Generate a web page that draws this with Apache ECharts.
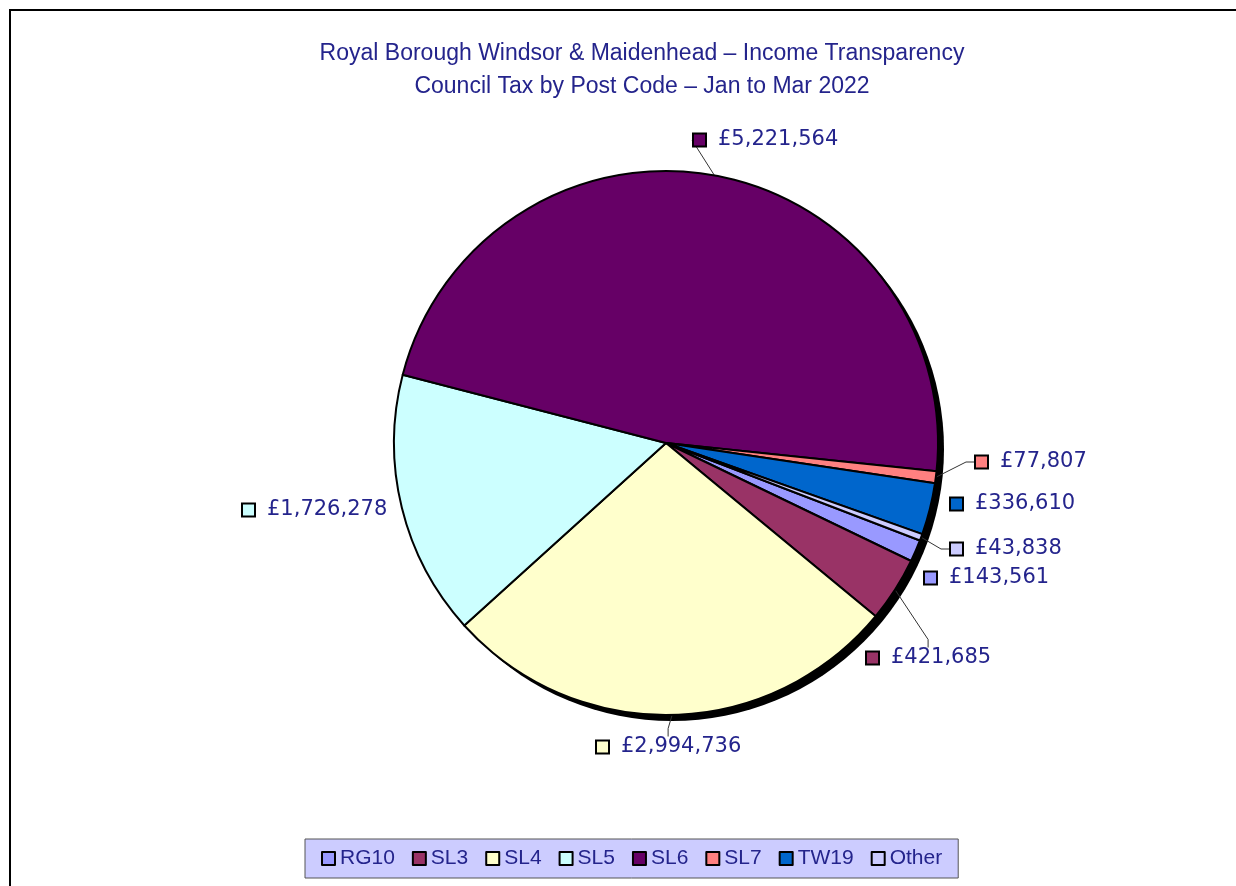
<!DOCTYPE html>
<html>
<head>
    <meta charset="utf-8">
    <title>Council Tax by Post Code</title>
    <script src="https://cdn.jsdelivr.net/npm/echarts@6/dist/echarts.min.js"></script>
    <style>
        html, body { margin: 0; padding: 0; background: #fff; }
        #chart1 { width: 1236px; height: 886px; }
    </style>
</head>
<body>
<div id="chart1"></div>
<script type="text/javascript">
    // data
    var postCodes = ['RG10', 'SL3', 'SL4', 'SL5', 'SL6', 'SL7', 'TW19', 'Other'];
    var amounts = [143561, 421685, 2994736, 1726278, 5221564, 77807, 336610, 43838];
    var colours = ['#9999ff', '#993366', '#ffffcc', '#ccffff', '#660066', '#ff8080', '#0066cc', '#ccccff'];

    // where each label sits (left of the marker, middle), and which have a leader line
    var labelPos = [[925, 578], [867, 658], [597, 747], [243, 510], [694, 140], [976, 462], [951, 504], [951, 549]];
    var noLine = [0, 3, 6];

    var navy = '#24248c';

    var rich = {
        v: { color: navy, fontFamily: 'DejaVu Sans', fontSize: 21, padding: [0, 0, 0, 13] }
    };
    colours.forEach(function (c, i) {
        rich['m' + i] = { width: 11, height: 11, backgroundColor: c, borderColor: '#000', borderWidth: 2 };
    });

    var pieData = postCodes.map(function (name, i) {
        return {
            name: name,
            value: amounts[i],
            itemStyle: { color: colours[i] },
            labelLine: { show: noLine.indexOf(i) < 0 }
        };
    });

    var myChart1 = echarts.init(document.getElementById('chart1'));
    myChart1.setOption({
        animation: false,
        title: {
            text: 'Royal Borough Windsor & Maidenhead \u2013 Income Transparency\nCouncil Tax by Post Code \u2013 Jan to Mar 2022',
            left: 637,
            top: 32,
            textAlign: 'center',
            textStyle: {
                color: navy,
                fontFamily: 'Liberation Sans',
                fontWeight: 'normal',
                fontSize: 23,
                lineHeight: 33
            }
        },
        legend: {
            data: postCodes,
            left: 305,
            top: 839,
            orient: 'horizontal',
            backgroundColor: '#ccccff',
            borderColor: '#555',
            borderWidth: 1,
            borderRadius: 0,
            padding: [9, 16],
            itemGap: 17,
            itemWidth: 13,
            itemHeight: 13,
            icon: 'rect',
            itemStyle: { borderColor: '#000', borderWidth: 2 },
            textStyle: { color: navy, fontFamily: 'Liberation Sans', fontSize: 21 },
            selectedMode: false
        },
        graphic: [{
            type: 'rect',
            shape: { x: 10, y: 10, width: 1400, height: 1000 },
            style: { fill: null, stroke: '#000', lineWidth: 2 },
            silent: true,
            z: -10
        }],
        series: [
            {
                // drop shadow under the pie
                name: 'shadow',
                type: 'pie',
                center: [672, 449],
                radius: 272,
                silent: true,
                z: 1,
                label: { show: false },
                labelLine: { show: false },
                itemStyle: { color: '#000', borderWidth: 0 },
                data: [{ name: '', value: 1 }]
            },
            {
                name: 'Council Tax',
                type: 'pie',
                center: [666, 443],
                radius: 272,
                startAngle: 339,
                clockwise: true,
                z: 2,
                avoidLabelOverlap: false,
                itemStyle: { borderColor: '#000', borderWidth: 2 },
                label: {
                    show: true,
                    formatter: function (p) {
                        return '{m' + p.dataIndex + '|}{v|\u00a3' + p.value.toLocaleString('en-GB') + '}';
                    },
                    rich: rich
                },
                labelLine: {
                    length: 10,
                    length2: 8,
                    lineStyle: { color: '#333', width: 1 }
                },
                labelLayout: function (params) {
                    var p = labelPos[params.dataIndex];
                    return { x: p[0], y: p[1], align: 'left', verticalAlign: 'middle' };
                },
                emphasis: { disabled: true },
                data: pieData
            }
        ]
    });
</script>
</body>
</html>
